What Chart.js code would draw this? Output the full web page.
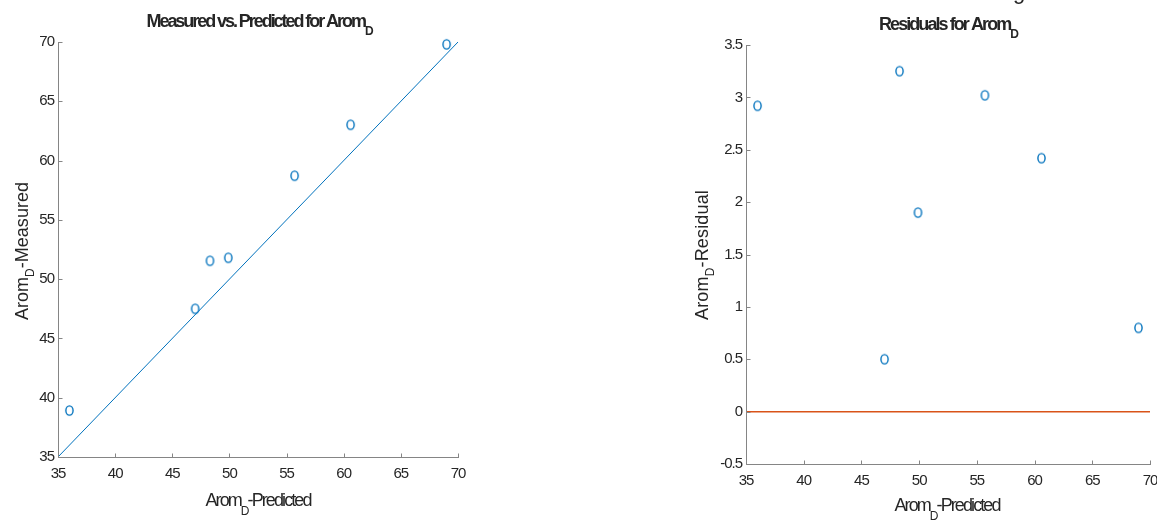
<!DOCTYPE html>
<html>
<head>
<meta charset="utf-8">
<script src="https://cdn.jsdelivr.net/npm/chart.js@4.4.1/dist/chart.umd.min.js"></script>
<style>
html, body { margin: 0; padding: 0; background: #fff; }
#wrap { position: relative; width: 1157px; height: 520px; overflow: hidden; }
canvas { position: absolute; top: 0; }
</style>
</head>
<body>
<div id="wrap">
  <canvas id="fit" width="480" height="520" style="left:0"></canvas>
  <canvas id="res" width="477" height="520" style="left:680px"></canvas>
</div>
<script>
// values
const predicted = [36.0, 47.0, 48.3, 49.9, 55.7, 60.6, 69.0];
const measured  = [38.92, 47.5, 51.55, 51.8, 58.72, 63.02, 69.8];
const residuals = [2.92, 0.5, 3.25, 1.9, 3.02, 2.42, 0.8];

const fitX = [35, 70];
const fitY = [35, 70];
const zeroX = [35, 70];
const zeroY = [0, 0];

const xTicks = [35, 40, 45, 50, 55, 60, 65, 70];
const yTicksFit = [35, 40, 45, 50, 55, 60, 65, 70];
const yTicksRes = [-0.5, 0, 0.5, 1, 1.5, 2, 2.5, 3, 3.5];

const BLUE = '#0072BD';
const RED = '#D95319';
const AXIS = '#858585';
const TEXT = '#262626';
const FONT = '"Liberation Sans", Arial, sans-serif';

// the 'o' marker
function makeMarker() {
    const c = document.createElement('canvas');
    c.width = 11; c.height = 13;
    const g = c.getContext('2d');
    g.strokeStyle = BLUE;
    g.lineWidth = 1.4;
    g.beginPath();
    g.ellipse(5.5, 6.5, 3.6, 4.6, 0, 0, Math.PI * 2);
    g.stroke();
    return c;
}
const marker = makeMarker();

function pts(xs, ys) {
    return xs.map((v, i) => ({ x: v, y: ys[i] }));
}

// text with a subscript part, squeezed to the width MATLAB gave it
function drawRich(ctx, parts, cx, by, font, subFont, subDrop, target, rotate) {
    ctx.save();
    ctx.fillStyle = TEXT;
    ctx.textBaseline = 'alphabetic';
    ctx.textAlign = 'left';
    ctx.letterSpacing = '0px';
    let w0 = 0, n = 0;
    parts.forEach(p => {
        ctx.font = p.sub ? subFont : font;
        w0 += ctx.measureText(p.t).width;
        n += p.t.length;
    });
    const sp = (target - w0) / n;
    ctx.letterSpacing = sp + 'px';
    ctx.translate(cx, by);
    if (rotate) ctx.rotate(-Math.PI / 2);
    let x = -target / 2;
    parts.forEach(p => {
        ctx.font = p.sub ? subFont : font;
        ctx.fillText(p.t, x, p.sub ? subDrop : 0);
        x += ctx.measureText(p.t).width;
    });
    ctx.restore();
}

const matlabAxes = {
    id: 'matlabAxes',
    beforeDraw(chart) {
        chart.ctx.letterSpacing = '-1px';
    },
    afterDraw(chart, args, o) {
        const { ctx, chartArea: a, scales: { x, y } } = chart;
        ctx.save();
        ctx.letterSpacing = '0px';
        ctx.strokeStyle = AXIS;
        ctx.lineWidth = 1;
        ctx.beginPath();
        const L = Math.round(a.left) + 0.5, B = Math.round(a.bottom) + 0.5;
        ctx.moveTo(L, Math.round(a.top));
        ctx.lineTo(L, B);
        ctx.lineTo(Math.round(a.right) + 1, B);
        x.ticks.forEach(t => {
            const px = Math.round(x.getPixelForValue(t.value)) + 0.5;
            ctx.moveTo(px, B);
            ctx.lineTo(px, B - 4);
        });
        y.ticks.forEach(t => {
            const py = Math.round(y.getPixelForValue(t.value)) + 0.5;
            ctx.moveTo(L, py);
            ctx.lineTo(L + 4, py);
        });
        ctx.stroke();
        ctx.restore();

        const lab = '18px ' + FONT, sub = '12px ' + FONT;
        const t = o.title, xl = o.xLabel, yl = o.yLabel;
        drawRich(ctx, t.parts, t.x, t.y, 'bold 18px ' + FONT, 'bold 12px ' + FONT, 8, t.w, false);
        drawRich(ctx, xl.parts, xl.x, xl.y, lab, sub, 9, xl.w, false);
        drawRich(ctx, yl.parts, yl.x, yl.y, lab, sub, 6, yl.w, true);
        if (o.extra) {
            ctx.save();
            ctx.font = '22px ' + FONT;
            ctx.fillStyle = TEXT;
            ctx.fillText('g', o.extra.x, o.extra.y);
            ctx.restore();
        }
    }
};

function scaleOpts(min, max, list, size, pad) {
    return {
        type: 'linear',
        min: min,
        max: max,
        grid: { display: false, drawTicks: false },
        border: { display: false },
        afterBuildTicks: s => { s.ticks = list.map(v => ({ value: v })); },
        afterFit: s => {
            if (s.isHorizontal()) s.height = size; else s.width = size;
            s.paddingLeft = 0; s.paddingRight = 0;
            s.paddingTop = 0; s.paddingBottom = 0;
        },
        ticks: {
            padding: pad,
            color: TEXT,
            font: { family: FONT, size: 15 },
            maxRotation: 0,
            autoSkip: false,
            callback: v => String(v)
        }
    };
}

Chart.defaults.animation = false;

new Chart(document.getElementById('fit'), {
    type: 'scatter',
    data: {
        datasets: [
            {
                label: 'measured',
                data: pts(predicted, measured),
                pointStyle: marker,
                pointRadius: 5,
                clip: false
            },
            {
                label: 'fit',
                type: 'line',
                data: pts(fitX, fitY),
                borderColor: BLUE,
                borderWidth: 1,
                pointRadius: 0
            }
        ]
    },
    options: {
        responsive: false,
        devicePixelRatio: 1,
        layout: { padding: { left: 0, right: 22, top: 42, bottom: 0 } },
        plugins: {
            legend: { display: false },
            tooltip: { enabled: false },
            matlabAxes: {
                title: { parts: [{ t: 'Measured vs. Predicted for Arom' }, { t: 'D', sub: true }], x: 259, y: 27, w: 225 },
                xLabel: { parts: [{ t: 'Arom' }, { t: 'D', sub: true }, { t: '-Predicted' }], x: 258, y: 506, w: 105 },
                yLabel: { parts: [{ t: 'Arom' }, { t: 'D', sub: true }, { t: '-Measured' }], x: 28, y: 251, w: 138 }
            }
        },
        scales: {
            x: scaleOpts(35, 70, xTicks, 63, 8),
            y: scaleOpts(35, 70, yTicksFit, 58, 4)
        }
    },
    plugins: [matlabAxes]
});

new Chart(document.getElementById('res'), {
    type: 'scatter',
    data: {
        datasets: [
            {
                label: 'residual',
                data: pts(predicted, residuals),
                pointStyle: marker,
                pointRadius: 5,
                clip: false
            },
            {
                label: 'zero',
                type: 'line',
                data: pts(zeroX, zeroY),
                borderColor: RED,
                borderWidth: 1.5,
                pointRadius: 0
            }
        ]
    },
    options: {
        responsive: false,
        devicePixelRatio: 1,
        layout: { padding: { left: 0, right: 7, top: 45, bottom: 0 } },
        plugins: {
            legend: { display: false },
            tooltip: { enabled: false },
            matlabAxes: {
                title: { parts: [{ t: 'Residuals for Arom' }, { t: 'D', sub: true }], x: 268, y: 30, w: 138 },
                xLabel: { parts: [{ t: 'Arom' }, { t: 'D', sub: true }, { t: '-Predicted' }], x: 267, y: 511, w: 105 },
                yLabel: { parts: [{ t: 'Arom' }, { t: 'D', sub: true }, { t: '-Residual' }], x: 28, y: 255, w: 130 },
                extra: { x: 333, y: -1 }
            }
        },
        scales: {
            x: scaleOpts(35, 70, xTicks, 56, 8),
            y: scaleOpts(-0.5, 3.5, yTicksRes, 66, 4)
        }
    },
    plugins: [matlabAxes]
});
</script>
</body>
</html>
